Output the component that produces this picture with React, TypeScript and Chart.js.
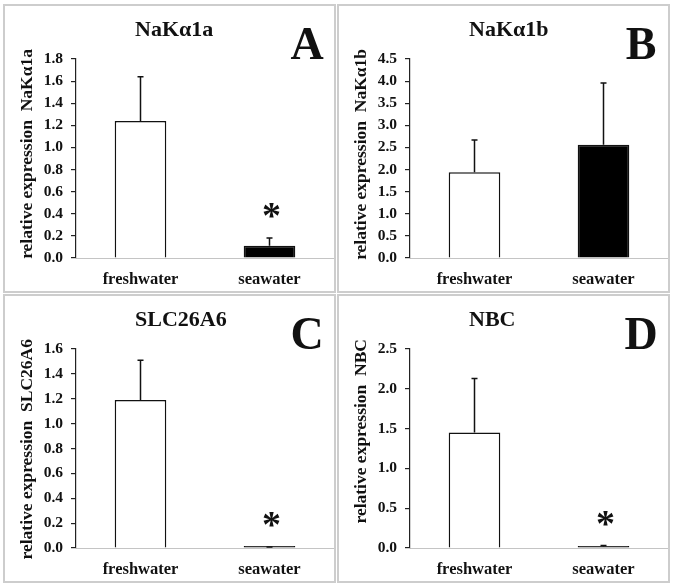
import React, { useEffect, useRef } from 'react';
import { Chart, registerables } from 'chart.js';

Chart.register(...registerables);

// ---------- data ----------
const categories = ['freshwater', 'seawater'];

const nka1aMeans = [1.24, 0.11];
const nka1aErrors = [0.40, 0.07];
const nka1aSignificant = [false, true];
const nka1aTicks = [0, 0.2, 0.4, 0.6, 0.8, 1.0, 1.2, 1.4, 1.6, 1.8];

const nka1bMeans = [1.94, 2.56];
const nka1bErrors = [0.73, 1.40];
const nka1bSignificant = [false, false];
const nka1bTicks = [0, 0.5, 1.0, 1.5, 2.0, 2.5, 3.0, 3.5, 4.0, 4.5];

const slcMeans = [1.19, 0.005];
const slcErrors = [0.32, 0.004];
const slcSignificant = [false, true];
const slcTicks = [0, 0.2, 0.4, 0.6, 0.8, 1.0, 1.2, 1.4, 1.6];

const nbcMeans = [1.45, 0.02];
const nbcErrors = [0.68, 0.01];
const nbcSignificant = [false, true];
const nbcTicks = [0, 0.5, 1.0, 1.5, 2.0, 2.5];

const panelLetters = ['A', 'B', 'C', 'D'];
const panelTitles = ['NaKα1a', 'NaKα1b', 'SLC26A6', 'NBC'];
const axisTitles = [
  'relative expression  NaKα1a',
  'relative expression  NaKα1b',
  'relative expression  SLC26A6',
  'relative expression  NBC',
];
const barColors = ['#ffffff', '#000000'];

// ---------- layout / style ----------
const SERIF = "'Liberation Serif', 'Times New Roman', serif";
const CANVAS_W = 329;
const CANVAS_H = 285;
const boxes = [
  { left: 3, top: 4 },
  { left: 337, top: 4 },
  { left: 3, top: 294 },
  { left: 337, top: 294 },
];

type Panel = {
  letter: string;
  title: string;
  axisTitle: string;
  means: number[];
  errors: number[];
  sig: boolean[];
  ticks: number[];
};

const panels: Panel[] = [
  { letter: panelLetters[0], title: panelTitles[0], axisTitle: axisTitles[0], means: nka1aMeans, errors: nka1aErrors, sig: nka1aSignificant, ticks: nka1aTicks },
  { letter: panelLetters[1], title: panelTitles[1], axisTitle: axisTitles[1], means: nka1bMeans, errors: nka1bErrors, sig: nka1bSignificant, ticks: nka1bTicks },
  { letter: panelLetters[2], title: panelTitles[2], axisTitle: axisTitles[2], means: slcMeans, errors: slcErrors, sig: slcSignificant, ticks: slcTicks },
  { letter: panelLetters[3], title: panelTitles[3], axisTitle: axisTitles[3], means: nbcMeans, errors: nbcErrors, sig: nbcSignificant, ticks: nbcTicks },
];

function makeOverlay(p: Panel) {
  return {
    id: 'overlay',
    afterDatasetsDraw(chart: any) {
      const { ctx } = chart;
      const y = chart.scales.y;
      const meta = chart.getDatasetMeta(0);
      ctx.save();
      meta.data.forEach((bar: any, i: number) => {
        const base = y.getPixelForValue(p.means[i]);
        const top = y.getPixelForValue(p.means[i] + p.errors[i]);
        ctx.strokeStyle = '#111';
        ctx.lineWidth = 1.5;
        ctx.beginPath();
        ctx.moveTo(bar.x, base);
        ctx.lineTo(bar.x, top);
        ctx.moveTo(bar.x - 3, top);
        ctx.lineTo(bar.x + 3, top);
        ctx.stroke();
        if (p.sig[i]) {
          ctx.fillStyle = '#111';
          ctx.font = `bold 38px ${SERIF}`;
          ctx.textAlign = 'center';
          ctx.textBaseline = 'alphabetic';
          ctx.fillText('*', bar.x + 2, top - 28 + 18);
        }
      });
      // panel title
      ctx.fillStyle = '#111';
      ctx.font = `bold 22px ${SERIF}`;
      ctx.textAlign = 'left';
      ctx.textBaseline = 'alphabetic';
      ctx.fillText(p.title, 130, 30);
      // panel letter
      ctx.font = `bold 46px ${SERIF}`;
      ctx.textAlign = 'center';
      ctx.fillText(p.letter, 302, 53);
      // y axis title
      ctx.translate(22, 43);
      ctx.rotate(-Math.PI / 2);
      ctx.font = `bold 17.5px ${SERIF}`;
      ctx.textAlign = 'right';
      ctx.textBaseline = 'middle';
      ctx.fillText(p.axisTitle, 0, 0);
      ctx.restore();
    },
  };
}

function PanelChart({ panel, box }: { panel: Panel; box: { left: number; top: number } }) {
  const ref = useRef<HTMLCanvasElement | null>(null);
  useEffect(() => {
    if (!ref.current) return;
    const tickVals = panel.ticks;
    const chart = new Chart(ref.current, {
      type: 'bar',
      data: {
        labels: categories,
        datasets: [
          {
            data: panel.means,
            backgroundColor: barColors,
            borderColor: '#111',
            borderWidth: 1.5,
            barPercentage: 0.4,
            categoryPercentage: 1,
            minBarLength: 2,
          },
        ],
      },
      options: {
        animation: false,
        responsive: false,
        devicePixelRatio: 1,
        layout: { padding: { top: 53, left: 0, right: 0, bottom: 0 } },
        plugins: {
          legend: { display: false },
          title: { display: false },
          tooltip: { enabled: false },
        },
        scales: {
          x: {
            grid: { display: false },
            border: { display: true, color: '#c4c4c4', width: 1 },
            ticks: {
              color: '#111',
              padding: 4,
              font: { family: SERIF, size: 16.5, weight: 'bold', lineHeight: 1.2 },
            },
            afterFit: (s: any) => {
              s.height = 33;
            },
          },
          y: {
            min: tickVals[0],
            max: tickVals[tickVals.length - 1],
            afterBuildTicks: (s: any) => {
              s.ticks = tickVals.map((v) => ({ value: v }));
            },
            grid: {
              drawOnChartArea: false,
              drawTicks: true,
              tickLength: 5,
              color: '#222',
              lineWidth: 1.2,
            },
            border: { display: true, color: '#222', width: 1.2 },
            ticks: {
              color: '#111',
              padding: 8,
              font: { family: SERIF, size: 15.5, weight: 'bold' },
              callback: (v: any) => Number(v).toFixed(1),
            },
            afterFit: (s: any) => {
              s.width = 71;
            },
          },
        },
      },
      plugins: [makeOverlay(panel)],
    } as any);
    return () => chart.destroy();
  }, [panel]);

  return (
    <div
      style={{
        position: 'absolute',
        left: box.left,
        top: box.top,
        width: CANVAS_W + 4,
        height: CANVAS_H + 4,
        border: '2px solid #cdcdcd',
        boxSizing: 'border-box',
        background: '#fff',
      }}
    >
      <canvas ref={ref} width={CANVAS_W} height={CANVAS_H} style={{ display: 'block', width: CANVAS_W, height: CANVAS_H }} />
    </div>
  );
}

export default function App() {
  return (
    <div style={{ position: 'absolute', left: 0, top: 0, width: 673, height: 586, background: '#fff' }}>
      {panels.map((p, i) => (
        <PanelChart key={p.letter} panel={p} box={boxes[i]} />
      ))}
    </div>
  );
}
